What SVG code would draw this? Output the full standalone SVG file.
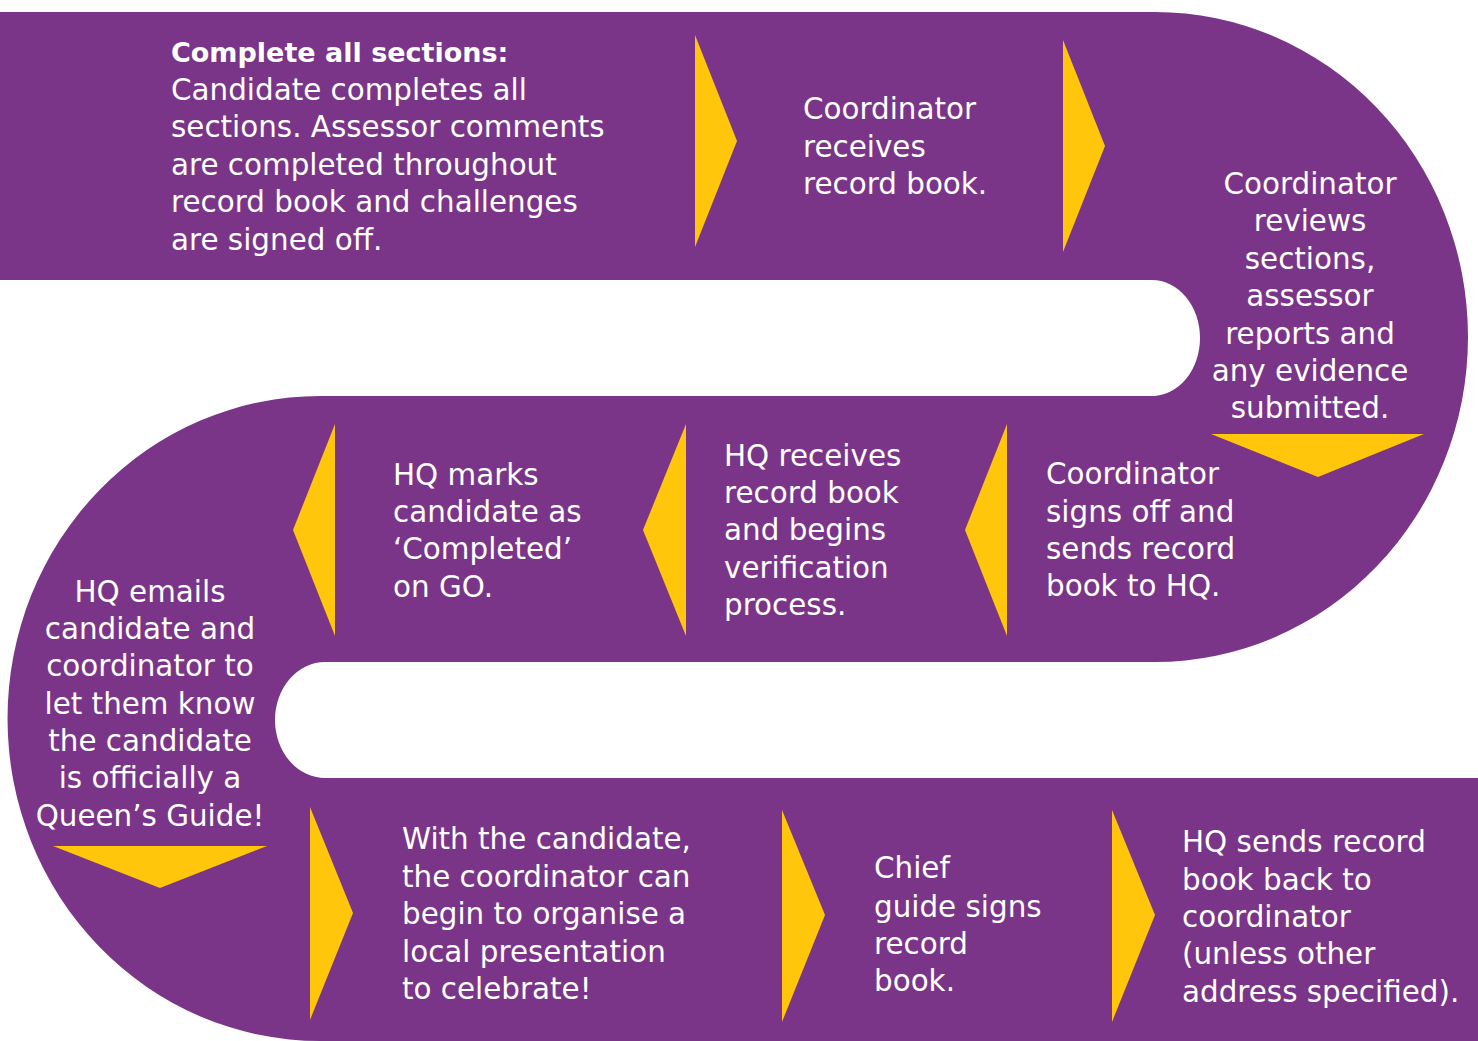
<svg xmlns="http://www.w3.org/2000/svg" width="1478" height="1041" viewBox="0 0 1478 1041">
<style>
.band{fill:#7A3589}
.arr{fill:#FFC60B}
text{font-family:"DejaVu Sans","Liberation Sans",sans-serif;font-size:29.4px;fill:#FFFFFF}
.b{font-weight:bold;font-size:27px}
.c{text-anchor:middle}
</style>
<rect width="1478" height="1041" fill="#FFFFFF"/>
<g id="band">
<path class="band" d="M0,12 H1155 A313,325 0 0 1 1155,662 H325 A50,58 0 0 0 325,778 H1478 V1041 H320 A312,322 0 0 1 320,396 H1152 A48,58 0 0 0 1152,280 H0 Z"/>
</g>
<g id="connectors">
<polygon class="arr" points="695,35 737,141 695,247"/>
<polygon class="arr" points="1063,40 1105,146 1063,252"/>
<polygon class="arr" points="1211,434 1424,434 1318,477"/>
<polygon class="arr" points="1007,424 965,530 1007,636"/>
<polygon class="arr" points="686,424 643,530 686,636"/>
<polygon class="arr" points="335,424 293,530 335,636"/>
<polygon class="arr" points="53,846 267,846 160,888"/>
<polygon class="arr" points="310,807 353,913 310,1020"/>
<polygon class="arr" points="782,810 825,915 782,1022"/>
<polygon class="arr" points="1112,810 1155,915 1112,1022"/>
</g>
<g id="node1">
<text x="171" y="62" class="b">Complete all sections:</text>
<text x="171" y="100">Candidate completes all</text>
<text x="171" y="137">sections. Assessor comments</text>
<text x="171" y="175">are completed throughout</text>
<text x="171" y="212">record book and challenges</text>
<text x="171" y="250">are signed off.</text>
</g>
<g id="node2">
<text x="803" y="119">Coordinator</text>
<text x="803" y="157">receives</text>
<text x="803" y="194">record book.</text>
</g>
<g id="node3">
<text x="1310" y="194" class="c">Coordinator</text>
<text x="1310" y="231" class="c">reviews</text>
<text x="1310" y="269" class="c">sections,</text>
<text x="1310" y="306" class="c">assessor</text>
<text x="1310" y="344" class="c">reports and</text>
<text x="1310" y="381" class="c">any evidence</text>
<text x="1310" y="418" class="c">submitted.</text>
</g>
<g id="node4">
<text x="1046" y="484">Coordinator</text>
<text x="1046" y="522">signs off and</text>
<text x="1046" y="559">sends record</text>
<text x="1046" y="596">book to HQ.</text>
</g>
<g id="node5">
<text x="724" y="466">HQ receives</text>
<text x="724" y="503">record book</text>
<text x="724" y="540">and begins</text>
<text x="724" y="578">verification</text>
<text x="724" y="615">process.</text>
</g>
<g id="node6">
<text x="393" y="485">HQ marks</text>
<text x="393" y="522">candidate as</text>
<text x="393" y="559">‘Completed’</text>
<text x="393" y="597">on GO.</text>
</g>
<g id="node7">
<text x="150" y="602" class="c">HQ emails</text>
<text x="150" y="639" class="c">candidate and</text>
<text x="150" y="676" class="c">coordinator to</text>
<text x="150" y="714" class="c">let them know</text>
<text x="150" y="751" class="c">the candidate</text>
<text x="150" y="788" class="c">is officially a</text>
<text x="150" y="826" class="c">Queen’s Guide!</text>
</g>
<g id="node8">
<text x="402" y="849">With the candidate,</text>
<text x="402" y="887">the coordinator can</text>
<text x="402" y="924">begin to organise a</text>
<text x="402" y="962">local presentation</text>
<text x="402" y="999">to celebrate!</text>
</g>
<g id="node9">
<text x="874" y="878">Chief</text>
<text x="874" y="917">guide signs</text>
<text x="874" y="954">record</text>
<text x="874" y="991">book.</text>
</g>
<g id="node10">
<text x="1182" y="852">HQ sends record</text>
<text x="1182" y="890">book back to</text>
<text x="1182" y="927">coordinator</text>
<text x="1182" y="964">(unless other</text>
<text x="1182" y="1002">address specified).</text>
</g>
</svg>
